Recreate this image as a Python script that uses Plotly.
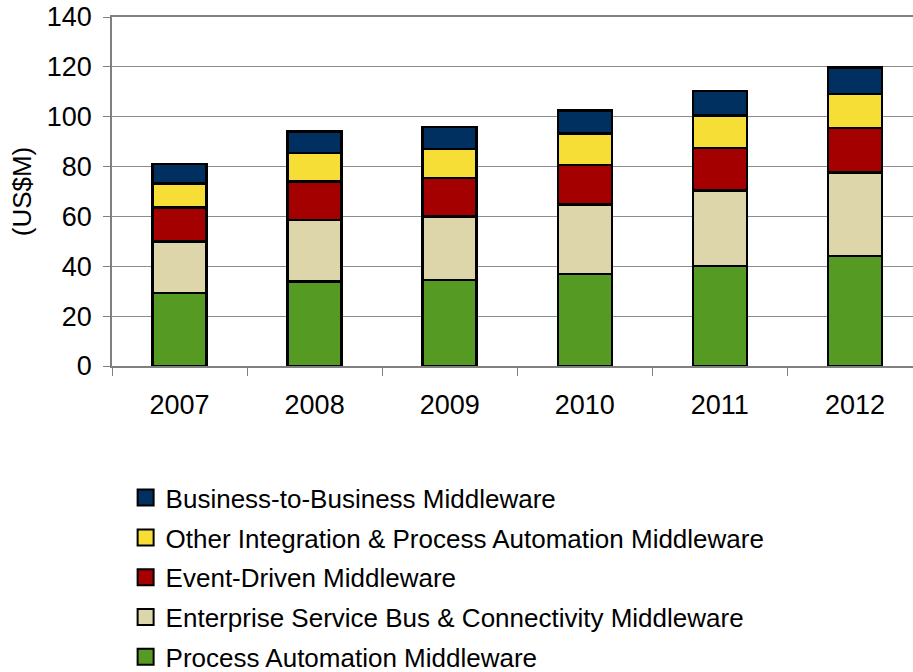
import plotly.graph_objects as go

years = ["2007", "2008", "2009", "2010", "2011", "2012"]
series_names = [
    "Process Automation Middleware",
    "Enterprise Service Bus & Connectivity Middleware",
    "Event-Driven Middleware",
    "Other Integration & Process Automation Middleware",
    "Business-to-Business Middleware",
]
process_automation = [29.3, 33.9, 34.5, 36.9, 40.2, 44.2]
esb_connectivity = [20.6, 24.7, 25.5, 27.8, 30.2, 33.4]
event_driven = [13.6, 15.4, 15.4, 16.0, 17.0, 17.8]
other_integration = [9.7, 11.4, 11.7, 12.5, 13.1, 13.8]
b2b = [7.9, 8.7, 8.7, 9.2, 9.9, 10.6]
colors = ["#559B23", "#DDD6AB", "#A50000", "#F7DE36", "#00305F"]
y_ticks = [0, 20, 40, 60, 80, 100, 120, 140]

all_series = [process_automation, esb_connectivity, event_driven, other_integration, b2b]

fig = go.Figure()
n = len(all_series)
for i, (name, vals, col) in enumerate(zip(series_names, all_series, colors)):
    fig.add_trace(go.Bar(
        x=years, y=vals, name=name, showlegend=False,
        marker=dict(color=col, line=dict(color="black", width=2.5)),
        width=0.4,
    ))
    # legend entry with a larger square swatch
    fig.add_trace(go.Scatter(
        x=[None], y=[None], mode="markers", name=name,
        legendgroup=str(i), legendrank=n - i,
        marker=dict(symbol="square", size=16, color=col,
                    line=dict(color="black", width=2)),
        hoverinfo="skip",
    ))

font = "Liberation Sans, Arial, sans-serif"
fig.update_layout(
    barmode="stack",
    width=913, height=672,
    margin=dict(l=112, r=0, t=17, b=306, autoexpand=False),
    plot_bgcolor="white", paper_bgcolor="white",
    font=dict(family=font, size=27, color="black"),
    showlegend=True,
    legend=dict(
        traceorder="grouped", tracegroupgap=3, itemsizing="trace",
        x=0.017, y=-0.31, xanchor="left", yanchor="top",
        font=dict(size=26, family=font, color="black"),
        bgcolor="rgba(0,0,0,0)",
    ),
    xaxis=dict(
        range=[-0.5, 5.43], automargin=False,
        showline=True, linecolor="#808080", linewidth=1.5, mirror=True,
        ticks="outside", tickson="boundaries", ticklen=8, tickcolor="#808080",
        showgrid=False, tickfont=dict(size=27), tickangle=0,
        ticklabelstandoff=14,
    ),
    yaxis=dict(
        range=[0, 140], tickvals=y_ticks, automargin=False,
        showline=True, linecolor="#808080", linewidth=1.5,
        ticks="outside", ticklen=7, tickcolor="#808080",
        showgrid=True, gridcolor="#8c8c8c", gridwidth=1,
        zeroline=False, tickfont=dict(size=27), ticklabelstandoff=6,
        title=dict(text="(US$M)", font=dict(size=26), standoff=8),
    ),
)
fig.write_html("out.html")
